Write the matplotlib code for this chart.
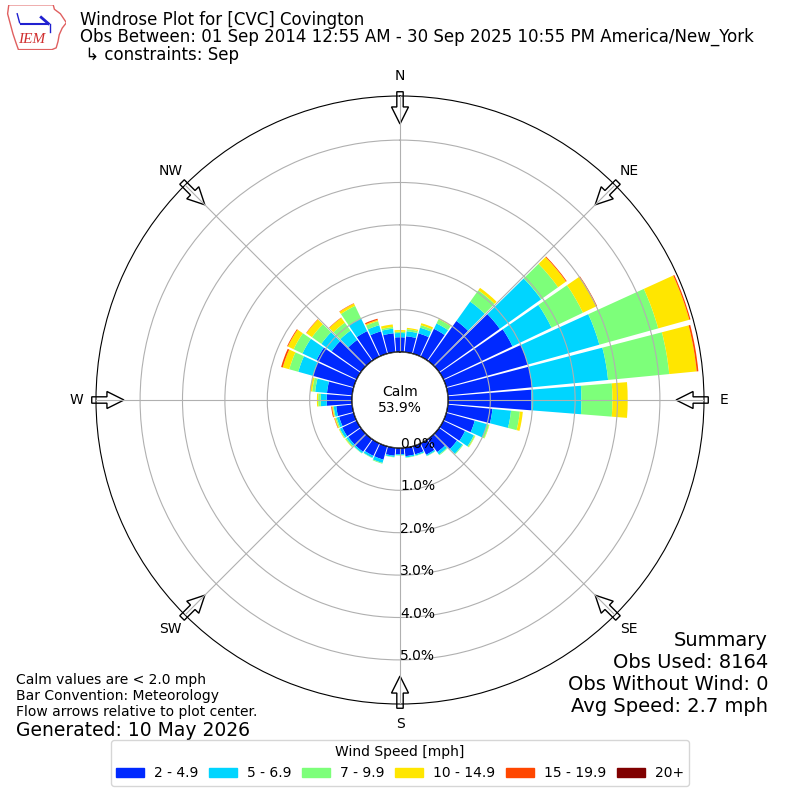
import numpy as np
import matplotlib
matplotlib.use('Agg')
import matplotlib.pyplot as plt
from matplotlib.patches import Circle, FancyArrow, Patch, Polygon

# direction bins (deg, meteorological, 10 deg bins)
directions = np.arange(0, 360, 10)

# frequency [%] per speed class, one value per direction bin
spd_2_5 = [0.35, 0.38, 0.50, 0.73, 1.16, 1.76, 1.81, 2.00, 2.00, 1.97, 1.06, 0.70,
           0.57, 0.52, 0.38, 0.30, 0.20, 0.20, 0.15, 0.19, 0.33, 0.33, 0.37, 0.37,
           0.38, 0.36, 0.38, 0.60, 0.60, 1.00, 1.05, 0.85, 0.61, 0.67, 0.55, 0.45]
spd_5_7 = [0.10, 0.12, 0.14, 0.14, 0.56, 1.20, 1.02, 1.75, 1.80, 1.18, 0.44, 0.30,
           0.23, 0.16, 0.07, 0.03, 0.03, 0.03, 0.02, 0.03, 0.08, 0.05, 0.04, 0.05,
           0.06, 0.06, 0.06, 0.14, 0.28, 0.36, 0.37, 0.30, 0.27, 0.33, 0.15, 0.11]
spd_7_10 = [0.03, 0.05, 0.06, 0.11, 0.33, 0.49, 0.82, 1.44, 1.45, 0.73, 0.21, 0.05,
            0.03, 0.02, 0.02, 0.01, 0.01, 0.01, 0.01, 0.01, 0.02, 0.01, 0.01, 0.03,
            0.02, 0.03, 0.02, 0.06, 0.07, 0.22, 0.23, 0.27, 0.23, 0.33, 0.10, 0.04]
spd_10_15 = [0.04, 0.03, 0.05, 0.02, 0.07, 0.23, 0.35, 0.76, 0.65, 0.36, 0.07, 0.01,
             0.01, 0.00, 0.00, 0.00, 0.00, 0.00, 0.00, 0.00, 0.00, 0.00, 0.00, 0.01,
             0.01, 0.02, 0.02, 0.03, 0.05, 0.16, 0.15, 0.16, 0.14, 0.06, 0.03, 0.06]
spd_15_20 = [0.00, 0.00, 0.00, 0.00, 0.00, 0.02, 0.02, 0.03, 0.04, 0.00, 0.00, 0.00,
             0.00, 0.00, 0.00, 0.00, 0.00, 0.00, 0.00, 0.00, 0.00, 0.00, 0.00, 0.00,
             0.00, 0.01, 0.02, 0.00, 0.00, 0.04, 0.02, 0.01, 0.01, 0.01, 0.03, 0.00]
spd_20 = [0.0] * 36

speed_labels = ['2 - 4.9', '5 - 6.9', '7 - 9.9', '10 - 14.9', '15 - 19.9', '20+']
calm_pct = 53.9
ring_ticks = [0, 1, 2, 3, 4, 5]
rmax = 6.04
calm_offset = 1.13

series = [spd_2_5, spd_5_7, spd_7_10, spd_10_15, spd_15_20, spd_20]
colors = plt.get_cmap('jet')(np.arange(1, 7) / 6.0)

fig = plt.figure(figsize=(8, 8), dpi=100)
ax = fig.add_axes([0.12, 0.12, 0.76, 0.76], projection='polar')
ax.set_theta_zero_location('N')
ax.set_theta_direction(-1)
ax.set_rorigin(-calm_offset)
ax.set_ylim(0, rmax)

theta = np.deg2rad(directions)
bottom = np.zeros(len(directions))
for vals, c in zip(series, colors):
    vals = np.array(vals)
    ax.bar(theta, vals, width=np.deg2rad(9), bottom=bottom, color=c,
           linewidth=0, zorder=1)
    bottom = bottom + vals

ax.set_axisbelow(False)
ax.set_thetagrids(range(0, 360, 45), labels=[])
ax.set_rgrids(ring_ticks, labels=[])
ax.grid(True, color='#b0b0b0', linewidth=0.8)
ax.spines['polar'].set_color('black')

# rlabels along south line
for k in ring_ticks:
    ax.text(np.pi, k, '%.1f%%' % k, ha='left', va='baseline', fontsize=10, zorder=6)

# calm circle
ax.add_patch(Circle((0.5, 0.5), 48 / 608.0, transform=ax.transAxes,
                    facecolor='white', edgecolor='black', linewidth=1, zorder=3))
ax.text(0.5, 0.5, 'Calm\n%.1f%%' % calm_pct, transform=ax.transAxes,
        ha='center', va='center', fontsize=10, zorder=4)

# compass labels and flow arrows
names = ['N', 'NE', 'E', 'SE', 'S', 'SW', 'W', 'NW']
for i, name in enumerate(names):
    a = np.deg2rad(i * 45)
    s, c = np.sin(a), np.cos(a)
    ax.text(0.5 + 0.533 * s, 0.5 + 0.533 * c, name, transform=ax.transAxes,
            ha='center', va='center', fontsize=10)
    arr = FancyArrow(0.5 + 0.507 * s, 0.5 + 0.507 * c, -0.053 * s, -0.053 * c,
                     width=0.0105, head_width=0.028, head_length=0.028,
                     length_includes_head=True, transform=ax.transAxes,
                     facecolor='white', edgecolor='black', linewidth=1,
                     clip_on=False, zorder=2)
    ax.add_patch(arr)

# title
fig.text(0.1, 1 - 20 / 800., 'Windrose Plot for [CVC] Covington', fontsize=12, va='center')
fig.text(0.1, 1 - 37 / 800., 'Obs Between: 01 Sep 2014 12:55 AM - 30 Sep 2025 10:55 PM America/New_York',
         fontsize=12, va='center')
fig.text(0.1, 1 - 55 / 800., ' \u21b3 constraints: Sep', fontsize=12, va='center')

# footnotes
fig.text(0.02, 1 - 680 / 800., 'Calm values are < 2.0 mph', fontsize=10, va='center')
fig.text(0.02, 1 - 696 / 800., 'Bar Convention: Meteorology', fontsize=10, va='center')
fig.text(0.02, 1 - 712 / 800., 'Flow arrows relative to plot center.', fontsize=10, va='center')
fig.text(0.02, 1 - 730 / 800., 'Generated: 10 May 2026', fontsize=13.5, va='center')

summary = ['Summary', 'Obs Used: 8164', 'Obs Without Wind: 0', 'Avg Speed: 2.7 mph']
for i, line in enumerate(summary):
    fig.text(0.96, 1 - (640 + 22 * i) / 800., line, fontsize=14, ha='right', va='center')

# legend
handles = [Patch(color=c) for c in colors]
fig.legend(handles, speed_labels, loc='lower center', bbox_to_anchor=(0.5, 0.009),
           ncol=6, title='Wind Speed [mph]', fontsize=10, title_fontsize=10,
           handlelength=2.0, handletextpad=0.7, columnspacing=0.8)

# logo
lax = fig.add_axes([0.008, 0.938, 0.075, 0.056])
lax.set_xlim(0, 1)
lax.set_ylim(0, 1)
lax.axis('off')
iowa = [(0.04, 1.0), (0.78, 1.0), (0.80, 0.9), (0.90, 0.80), (0.95, 0.70),
        (1.0, 0.60), (0.93, 0.48), (0.88, 0.33), (0.86, 0.18), (0.83, 0.04),
        (0.76, 0.0), (0.20, 0.0), (0.16, 0.15), (0.11, 0.35), (0.07, 0.55),
        (0.02, 0.80)]
lax.add_patch(Polygon(iowa, closed=True, facecolor='white', edgecolor='#e06060', linewidth=1))
lax.plot([0.25, 0.70], [0.58, 0.58], color='#2020d0', linewidth=1.5)
lax.plot([0.58, 0.70], [0.72, 0.58], color='#2020d0', linewidth=2)
lax.plot([0.72, 0.72], [0.58, 0.40], color='#2020d0', linewidth=1)
lax.plot([0.22, 0.18], [0.60, 0.80], color='#2020d0', linewidth=1)
lax.text(0.42, 0.22, 'IEM', ha='center', va='center', fontsize=11, color='#d03030',
         family='Liberation Serif', style='italic')

fig.savefig('out.png', dpi=100)
